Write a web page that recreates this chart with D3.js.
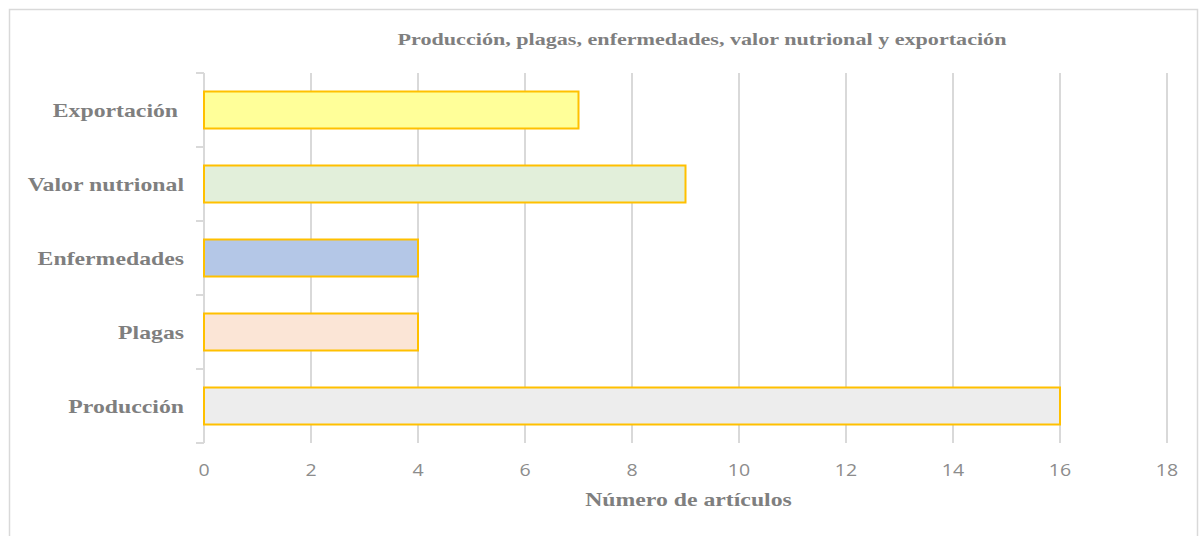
<!DOCTYPE html>
<html>
<head>
<meta charset="utf-8">
<script src="https://cdn.jsdelivr.net/npm/d3@7"></script>
<style>
  body { margin: 0; background: #fff; }
  svg { display: block; }
</style>
</head>
<body>
<div id="chart"></div>
<script>
// data, top to bottom as drawn
let categories = ["Exportación\u00a0", "Valor nutrional", "Enfermedades", "Plagas", "Producción"];
let values = [7, 9, 4, 4, 16];
let fills = ["#ffff99", "#e2efda", "#b4c7e7", "#fbe5d6", "#ededed"];
let xTicks = [0, 2, 4, 6, 8, 10, 12, 14, 16, 18];

main();

function main() {
    let width = 1200, height = 536;
    let margin = {left: 204, right: 33, top: 73, bottom: 93};
    let stretch = 1.25;   // the original's text is wide, looks stretched
    let serif = "'Liberation Serif', 'DejaVu Serif', serif";

    let svg = d3.select("#chart").append("svg")
        .attr("width", width)
        .attr("height", height);

    // outer chart frame
    svg.append("rect")
        .attr("x", 9.5).attr("y", 9.5)
        .attr("width", 1188).attr("height", 540)
        .attr("fill", "none")
        .attr("stroke", "#d9d9d9")
        .attr("stroke-width", 1.5);

    let x = d3.scaleLinear()
        .domain([0, 18])
        .range([margin.left, width - margin.right]);

    let y = d3.scaleBand()
        .domain(categories)
        .range([margin.top, height - margin.bottom])
        .paddingInner(0.5)
        .paddingOuter(0.25);

    let bandStep = y.step();

    // vertical gridlines
    svg.append("g").selectAll("line")
        .data(xTicks.slice(1))
        .enter()
        .append("line")
        .attr("x1", d => x(d)).attr("x2", d => x(d))
        .attr("y1", margin.top).attr("y2", height - margin.bottom)
        .attr("stroke", "#d9d9d9")
        .attr("stroke-width", 2);

    // y axis line with tick marks between categories
    let yAxis = svg.append("g");
    yAxis.append("line")
        .attr("x1", margin.left).attr("x2", margin.left)
        .attr("y1", margin.top).attr("y2", height - margin.bottom)
        .attr("stroke", "#d9d9d9")
        .attr("stroke-width", 2);
    yAxis.selectAll(".tk")
        .data(d3.range(categories.length + 1))
        .enter()
        .append("line")
        .attr("class", "tk")
        .attr("x1", margin.left - 8).attr("x2", margin.left)
        .attr("y1", i => margin.top + i * bandStep)
        .attr("y2", i => margin.top + i * bandStep)
        .attr("stroke", "#d9d9d9")
        .attr("stroke-width", 2);

    // bars
    svg.append("g").selectAll("rect")
        .data(categories)
        .enter()
        .append("rect")
        .attr("x", x(0))
        .attr("y", d => y(d))
        .attr("width", (d, i) => x(values[i]) - x(0))
        .attr("height", y.bandwidth())
        .attr("fill", (d, i) => fills[i])
        .attr("stroke", "#ffc000")
        .attr("stroke-width", 2);

    // category labels
    svg.append("g").selectAll("text")
        .data(categories)
        .enter()
        .append("text")
        .attr("transform", d => "translate(184," + (y(d) + y.bandwidth() / 2) + ") scale(" + stretch + ",1)")
        .attr("dy", "0.35em")
        .attr("text-anchor", "end")
        .attr("font-family", serif)
        .attr("font-weight", "bold")
        .attr("font-size", 19)
        .attr("fill", "#7f7f7f")
        .style("white-space", "pre")
        .text(d => d);

    // x tick labels
    svg.append("g").selectAll("text")
        .data(xTicks)
        .enter()
        .append("text")
        .attr("transform", d => "translate(" + x(d) + ",476) scale(1.15,1)")
        .attr("text-anchor", "middle")
        .attr("font-family", "'Open Sans', 'Liberation Sans', sans-serif")
        .attr("font-size", 17)
        .attr("fill", "#8c8c8c")
        .text(d => d);

    // axis title
    svg.append("text")
        .attr("transform", "translate(" + ((x(0) + x(18)) / 2 + 3) + ",506) scale(" + stretch + ",1)")
        .attr("text-anchor", "middle")
        .attr("font-family", serif)
        .attr("font-weight", "bold")
        .attr("font-size", 19)
        .attr("fill", "#7f7f7f")
        .text("Número de artículos");

    // chart title
    svg.append("text")
        .attr("transform", "translate(702,45) scale(" + stretch + ",1)")
        .attr("text-anchor", "middle")
        .attr("font-family", serif)
        .attr("font-weight", "bold")
        .attr("font-size", 17.7)
        .attr("fill", "#7f7f7f")
        .text("Producción, plagas, enfermedades, valor nutrional y exportación");
}
</script>
</body>
</html>
